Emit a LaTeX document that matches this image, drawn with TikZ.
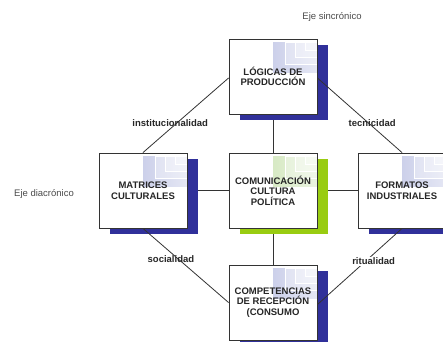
\documentclass[tikz,border=0pt]{standalone}
\usepackage{fontspec}
\setmainfont{Liberation Sans}
\usetikzlibrary{shadows,backgrounds}
\definecolor{linea}{HTML}{333333}
\definecolor{texto}{HTML}{262626}
\definecolor{gris}{HTML}{4A4A4A}
\definecolor{sombraazul}{HTML}{30309A}
\definecolor{sombraverde}{HTML}{99CC11}
\definecolor{decoazul}{HTML}{B4BAE0}
\definecolor{decoverde}{HTML}{C4DFA8}

\begin{document}
\begin{tikzpicture}[x=1pt, y=-1pt,
    caja/.style 2 args={draw=linea, line width=0.9pt, fill=white,
      minimum width=88pt, minimum height=75pt, align=center,
      font=\bfseries\fontsize{9.5}{10.5}\selectfont, text=texto,
      drop shadow={shadow xshift=11pt, shadow yshift=-6pt, fill=#1, opacity=1},
      path picture={
        \shade[left color=#2, right color=#2!35]
          ([xshift=-44pt, yshift=-3pt]path picture bounding box.north east)
          rectangle ([yshift=-33pt]path picture bounding box.north east);
        \foreach \d/\h in {32/22, 22/15, 12/8}
          \draw[white, fill=white, fill opacity=0.3]
            ([yshift=-3pt]path picture bounding box.north east)
            rectangle ([xshift=-\d pt, yshift=-\h pt-3pt]path picture bounding box.north east);
      }},
    conector/.style={draw=linea, line width=0.8pt},
    etiqueta/.style={font=\bfseries\fontsize{9.5}{11}\selectfont, text=texto},
    eje/.style={font=\fontsize{9.5}{11}\selectfont, text=gris}]
  \useasboundingbox (0,0) rectangle (443,341);

  % cajas
  \node[caja={sombraazul}{decoazul}] (produccion) at (273,76.5) {LÓGICAS DE\\PRODUCCIÓN};
  \node[caja={sombraazul}{decoazul}] (matrices) at (143,190.5) {MATRICES\\CULTURALES};
  \node[caja={sombraverde}{decoverde}] (centro) at (273,190.5) {COMUNICACIÓN\\CULTURA\\POLÍTICA};
  \node[caja={sombraazul}{decoazul}] (formatos) at (402,190.5) {FORMATOS\\INDUSTRIALES};
  \node[caja={sombraazul}{decoazul}] (competencias) at (273,302.5) {COMPETENCIAS\\DE RECEPCIÓN\\(CONSUMO};

  % ejes
  \begin{scope}[on background layer]
    \draw[conector] (produccion) -- (centro);
    \draw[conector] (matrices) -- (centro);
    \draw[conector] (centro) -- (formatos);
    \draw[conector] (centro) -- (competencias);
  \end{scope}

  % mediaciones
  \draw[conector] ([yshift=-1.5pt]produccion.west) -- (matrices.north)
    node[etiqueta, pos=0.6, xshift=-7pt] (institucionalidad) {institucionalidad};
  \draw[conector] ([yshift=-1.5pt]produccion.east) -- (formatos.north)
    node[etiqueta, pos=0.6, xshift=4pt] (tecnicidad) {tecnicidad};
  \draw[conector] (matrices.south) -- (competencias.west)
    node[etiqueta, pos=0.42, xshift=-8pt] (socialidad) {socialidad};
  \draw[conector] (formatos.south) -- ([yshift=-2pt]competencias.east)
    node[etiqueta, pos=0.43, xshift=8pt, fill=white, inner sep=1pt] (ritualidad) {ritualidad};

  % titulos de los ejes
  \node[eje] (sincronico) at (332,17) {Eje sincrónico};
  \node[eje] (diacronico) at (44,194) {Eje diacrónico};
\end{tikzpicture}
\end{document}
